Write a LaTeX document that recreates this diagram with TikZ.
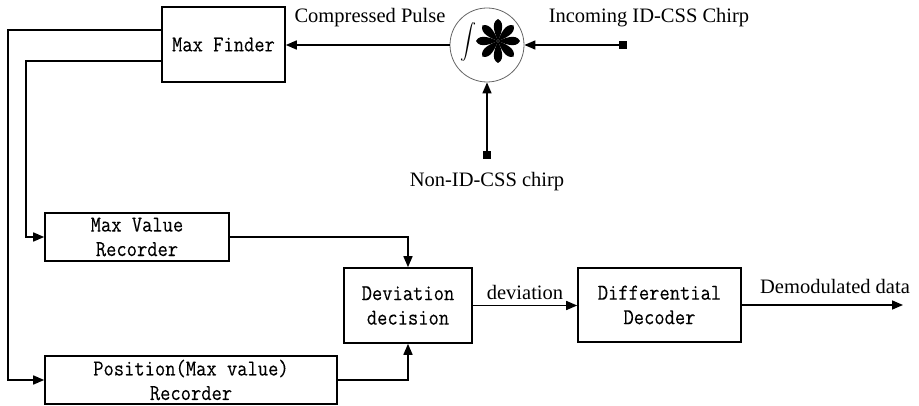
\documentclass[tikz,border=0pt]{standalone}
\usepackage{fontspec}
\setmainfont{Liberation Serif}
\newfontfamily\blockfont[FakeStretch=0.88,FakeBold=0.15]{Latin Modern Mono}
\usepackage{graphicx}
\usetikzlibrary{arrows.meta}

\tikzset{
  block/.style={draw, line width=1.6pt, inner sep=0pt, align=center,
    font=\blockfont\fontsize{22.7}{24.5}\selectfont},
  lbl/.style={inner sep=0pt, font=\fontsize{20.5}{24}\selectfont},
  arr/.style={line width=1.6pt, -{Triangle[length=11pt,width=9pt]}},
  src/.style={fill=black, minimum size=8pt, inner sep=0pt},
}

\begin{document}
\begin{tikzpicture}[x=1pt, y=-1pt]
\useasboundingbox (0,0) rectangle (919,406);

% processing blocks
\node[block, minimum width=123pt, minimum height=75pt] (mf) at (223.5,44.5) {Max Finder};
\node[block, minimum width=184pt, minimum height=48pt] (mv) at (137,237) {Max Value\\Recorder};
\node[block, minimum width=292pt, minimum height=48pt] (pos) at (191,380) {Position(Max value)\\Recorder};
\node[block, minimum width=128pt, minimum height=75pt] (dd) at (408,305.5) {Deviation\\decision};
\node[block, minimum width=163pt, minimum height=74pt] (dec) at (659.5,305) {Differential\\Decoder};

% correlator: integral and teardrop asterisk inside a circle
\node[circle, draw=black!60, line width=0.8pt, minimum size=74pt, inner sep=0pt] (conv) at (487,45) {};
\node[inner sep=0pt] (int) at (468,42) {\scalebox{1.6}[1.75]{$\displaystyle\int$}};
\begin{scope}[shift={(498,41)}]
  \foreach \a in {0,45,...,315}
    \fill[rotate=\a] (0,0) .. controls (2.5,-6) and (8,-18) .. (0,-22)
                     .. controls (-8,-18) and (-2.5,-6) .. (0,0);
\end{scope}

% signal sources
\node[src] (inc) at (623,45) {};
\node[src] (ref) at (487,155) {};
\coordinate (out) at (903,305);
\coordinate (b1) at (8,30);
\coordinate (b2) at (26,61);

% connectors
\draw[arr] (inc) -- (conv.east);
\draw[arr] (ref) -- (conv.south);
\draw[arr] (conv.west) -- (mf.east |- conv.west);
\draw[arr] (mf.west |- b1) -- (b1) |- (pos.west);
\draw[arr] (mf.west |- b2) -- (b2) |- (mv.west);
\draw[arr] (mv.east) -| (dd.north);
\draw[arr] (pos.east) -| (dd.south);
\draw[arr] (dd.east) -- (dec.west |- dd.east);
\draw[arr] (dec.east) -- (out);

% labels
\node[lbl] (lcp) at (370,18) {Compressed Pulse};
\node[lbl] (linc) at (649,18) {Incoming ID-CSS Chirp};
\node[lbl] (lref) at (487,182) {Non-ID-CSS chirp};
\node[lbl] (ldev) at (525,292) {deviation};
\node[lbl] (lout) at (835,286) {Demodulated data};
\end{tikzpicture}
\end{document}
